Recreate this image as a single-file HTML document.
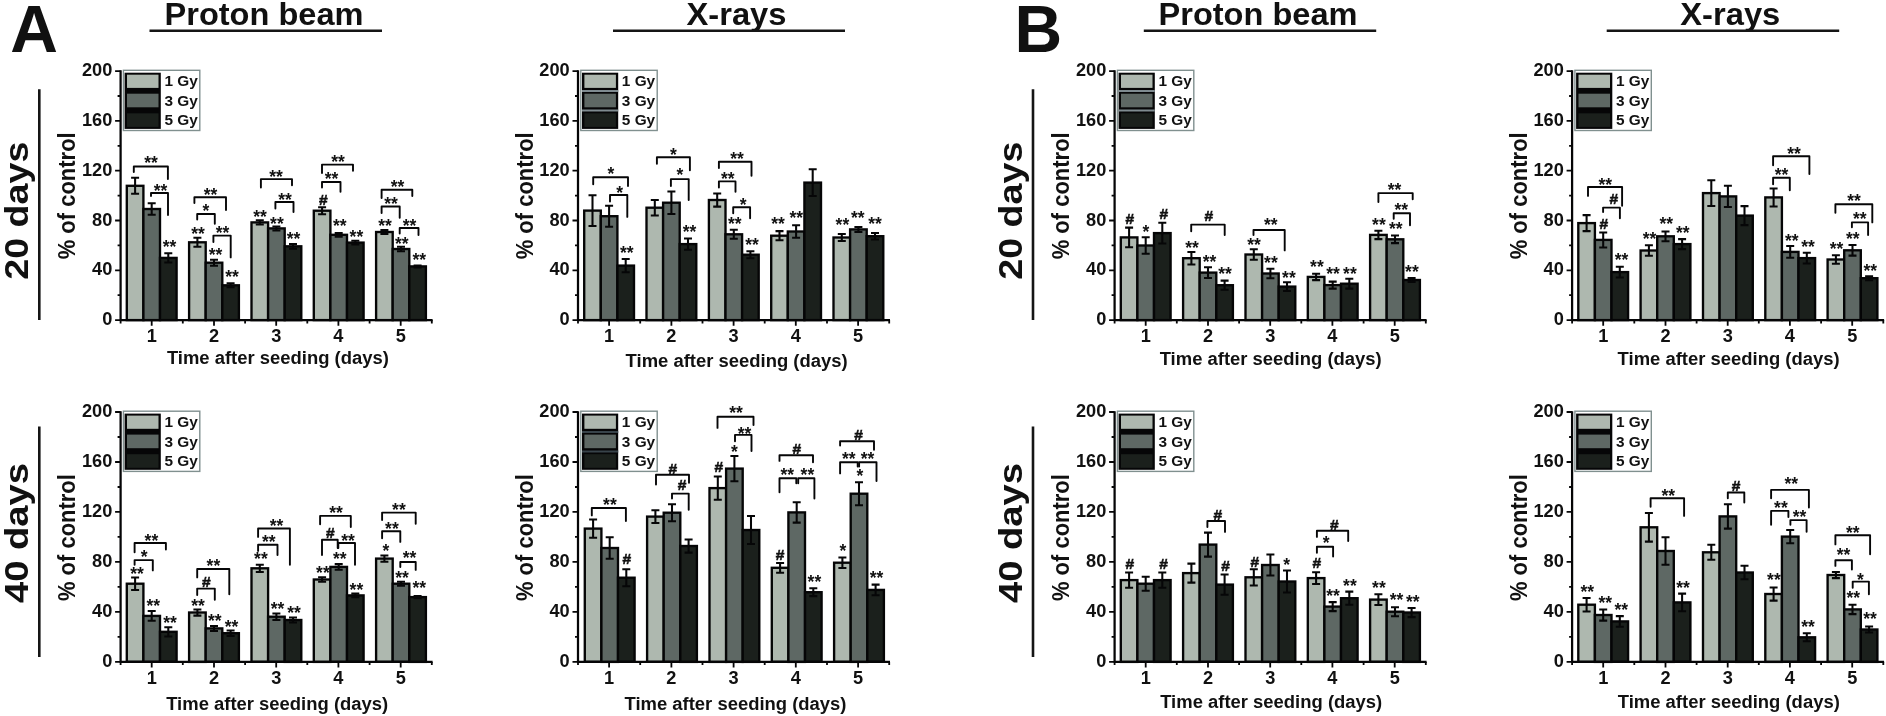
<!DOCTYPE html>
<html lang="en"><head><meta charset="utf-8"><title>Figure</title>
<style>html,body{margin:0;padding:0;background:#fff}body{width:1886px;height:716px;overflow:hidden}svg{display:block;filter:blur(0.45px)}</style>
</head><body>
<svg width="1886" height="716" viewBox="0 0 1886 716" font-family='"Liberation Sans", sans-serif' font-weight="700" fill="#111">
<rect width="1886" height="716" fill="#fff"/>
<text x="10.2" y="52" font-size="66">A</text>
<text x="1014.5" y="52" font-size="66">B</text>
<text x="264" y="25.3" text-anchor="middle" font-size="30.5" textLength="199" lengthAdjust="spacingAndGlyphs">Proton beam</text>
<path d="M149.5 30.8H382" stroke="#151515" stroke-width="2.6"/>
<text x="736.5" y="25.3" text-anchor="middle" font-size="30.5" textLength="100" lengthAdjust="spacingAndGlyphs">X-rays</text>
<path d="M613 30.8H845" stroke="#151515" stroke-width="2.6"/>
<text x="1258" y="25.3" text-anchor="middle" font-size="30.5" textLength="199" lengthAdjust="spacingAndGlyphs">Proton beam</text>
<path d="M1143.8 30.8H1376.2" stroke="#151515" stroke-width="2.6"/>
<text x="1730.3" y="25.3" text-anchor="middle" font-size="30.5" textLength="100" lengthAdjust="spacingAndGlyphs">X-rays</text>
<path d="M1606.7 30.8H1839.2" stroke="#151515" stroke-width="2.6"/>
<text transform="translate(28.3 210.7) rotate(-90)" text-anchor="middle" font-size="33" textLength="138" lengthAdjust="spacingAndGlyphs">20 days</text>
<text transform="translate(28.3 533) rotate(-90)" text-anchor="middle" font-size="33" textLength="140" lengthAdjust="spacingAndGlyphs">40 days</text>
<path d="M39.3 89.3V320M39.3 426.5V657" stroke="#151515" stroke-width="2.6"/>
<text transform="translate(1022.3 210.7) rotate(-90)" text-anchor="middle" font-size="33" textLength="138" lengthAdjust="spacingAndGlyphs">20 days</text>
<text transform="translate(1022.3 533) rotate(-90)" text-anchor="middle" font-size="33" textLength="140" lengthAdjust="spacingAndGlyphs">40 days</text>
<path d="M1033 89.3V320M1033 426.5V657" stroke="#151515" stroke-width="2.6"/>
<rect x="126.8" y="185.8" width="16.6" height="134.3" fill="#aeb8af" stroke="#050506" stroke-width="2.35"/>
<rect x="143.4" y="209.0" width="16.6" height="111.1" fill="#5e6864" stroke="#050506" stroke-width="2.35"/>
<rect x="160.0" y="257.9" width="16.6" height="62.2" fill="#1b201c" stroke="#050506" stroke-width="2.35"/>
<path d="M135.1 177.8V193.8M131.1 177.8H139.1M131.1 193.8H139.1" stroke="#060607" stroke-width="2.05" fill="none"/>
<path d="M151.7 203.2V214.8M147.7 203.2H155.7M147.7 214.8H155.7" stroke="#060607" stroke-width="2.05" fill="none"/>
<path d="M168.3 253.3V262.5M164.3 253.3H172.3M164.3 262.5H172.3" stroke="#060607" stroke-width="2.05" fill="none"/>
<rect x="189.1" y="242.3" width="16.6" height="77.8" fill="#aeb8af" stroke="#050506" stroke-width="2.35"/>
<rect x="205.7" y="262.7" width="16.6" height="57.4" fill="#5e6864" stroke="#050506" stroke-width="2.35"/>
<rect x="222.3" y="285.3" width="16.6" height="34.8" fill="#1b201c" stroke="#050506" stroke-width="2.35"/>
<path d="M197.4 237.8V246.8M193.4 237.8H201.4M193.4 246.8H201.4" stroke="#060607" stroke-width="2.05" fill="none"/>
<path d="M214.0 259.7V265.7M210.0 259.7H218.0M210.0 265.7H218.0" stroke="#060607" stroke-width="2.05" fill="none"/>
<path d="M230.6 283.3V287.3M226.6 283.3H234.6M226.6 287.3H234.6" stroke="#060607" stroke-width="2.05" fill="none"/>
<rect x="251.5" y="222.4" width="16.6" height="97.7" fill="#aeb8af" stroke="#050506" stroke-width="2.35"/>
<rect x="268.1" y="228.4" width="16.6" height="91.7" fill="#5e6864" stroke="#050506" stroke-width="2.35"/>
<rect x="284.7" y="246.3" width="16.6" height="73.8" fill="#1b201c" stroke="#050506" stroke-width="2.35"/>
<path d="M259.8 220.3V224.5M255.8 220.3H263.8M255.8 224.5H263.8" stroke="#060607" stroke-width="2.05" fill="none"/>
<path d="M276.4 226.4V230.4M272.4 226.4H280.4M272.4 230.4H280.4" stroke="#060607" stroke-width="2.05" fill="none"/>
<path d="M293.0 243.9V248.7M289.0 243.9H297.0M289.0 248.7H297.0" stroke="#060607" stroke-width="2.05" fill="none"/>
<rect x="313.8" y="210.7" width="16.6" height="109.4" fill="#aeb8af" stroke="#050506" stroke-width="2.35"/>
<rect x="330.4" y="234.8" width="16.6" height="85.3" fill="#5e6864" stroke="#050506" stroke-width="2.35"/>
<rect x="347.0" y="242.6" width="16.6" height="77.5" fill="#1b201c" stroke="#050506" stroke-width="2.35"/>
<path d="M322.1 207.2V214.2M318.1 207.2H326.1M318.1 214.2H326.1" stroke="#060607" stroke-width="2.05" fill="none"/>
<path d="M338.7 233.0V236.6M334.7 233.0H342.7M334.7 236.6H342.7" stroke="#060607" stroke-width="2.05" fill="none"/>
<path d="M355.3 240.8V244.4M351.3 240.8H359.3M351.3 244.4H359.3" stroke="#060607" stroke-width="2.05" fill="none"/>
<rect x="376.1" y="232.0" width="16.6" height="88.1" fill="#aeb8af" stroke="#050506" stroke-width="2.35"/>
<rect x="392.7" y="249.0" width="16.6" height="71.1" fill="#5e6864" stroke="#050506" stroke-width="2.35"/>
<rect x="409.3" y="266.4" width="16.6" height="53.7" fill="#1b201c" stroke="#050506" stroke-width="2.35"/>
<path d="M384.4 230.0V234.0M380.4 230.0H388.4M380.4 234.0H388.4" stroke="#060607" stroke-width="2.05" fill="none"/>
<path d="M401.0 246.8V251.2M397.0 246.8H405.0M397.0 251.2H405.0" stroke="#060607" stroke-width="2.05" fill="none"/>
<path d="M417.6 265.4V267.4M413.6 265.4H421.6M413.6 267.4H421.6" stroke="#060607" stroke-width="2.05" fill="none"/>
<path d="M120.6 70.3V320.9M119.8 320.1H432.6" stroke="#050506" stroke-width="2.25" fill="none"/>
<path d="M115.1 320.1H120.6M117.6 295.2H120.6M115.1 270.3H120.6M117.6 245.4H120.6M115.1 220.5H120.6M117.6 195.6H120.6M115.1 170.7H120.6M117.6 145.8H120.6M115.1 120.9H120.6M117.6 96.0H120.6M115.1 71.1H120.6M120.6 320.1V323.4M151.7 320.1V325.7M182.8 320.1V323.4M214.0 320.1V325.7M245.1 320.1V323.4M276.2 320.1V325.7M307.3 320.1V323.4M338.4 320.1V325.7M369.6 320.1V323.4M400.7 320.1V325.7M431.8 320.1V323.4" stroke="#060607" stroke-width="1.8" fill="none"/>
<text x="112.3" y="325.1" text-anchor="end" font-size="18.2">0</text>
<text x="112.3" y="275.3" text-anchor="end" font-size="18.2">40</text>
<text x="112.3" y="225.5" text-anchor="end" font-size="18.2">80</text>
<text x="112.3" y="175.7" text-anchor="end" font-size="18.2">120</text>
<text x="112.3" y="125.9" text-anchor="end" font-size="18.2">160</text>
<text x="112.3" y="76.1" text-anchor="end" font-size="18.2">200</text>
<text x="151.7" y="342.4" text-anchor="middle" font-size="18.2">1</text>
<text x="214.0" y="342.4" text-anchor="middle" font-size="18.2">2</text>
<text x="276.2" y="342.4" text-anchor="middle" font-size="18.2">3</text>
<text x="338.4" y="342.4" text-anchor="middle" font-size="18.2">4</text>
<text x="400.7" y="342.4" text-anchor="middle" font-size="18.2">5</text>
<text x="277.9" y="364.2" text-anchor="middle" font-size="18" textLength="222" lengthAdjust="spacingAndGlyphs">Time after seeding (days)</text>
<text transform="translate(75.1 195.8) rotate(-90)" text-anchor="middle" font-size="23.5" textLength="127" lengthAdjust="spacingAndGlyphs">% of control</text>
<rect x="123.4" y="70.3" width="76.4" height="60.2" fill="#fff" stroke="#80908f" stroke-width="1.4"/>
<rect x="124.6" y="72.7" width="36.2" height="56.2" fill="#060607"/>
<rect x="127.0" y="74.7" width="31.5" height="13.2" fill="#aeb8af"/>
<text x="164.4" y="86.3" font-size="15.4">1 Gy</text>
<rect x="127.0" y="93.7" width="31.5" height="13.6" fill="#5e6864"/>
<text x="164.4" y="105.8" font-size="15.4">3 Gy</text>
<rect x="127.0" y="113.3" width="31.5" height="13.6" fill="#1b201c"/>
<text x="164.4" y="125.2" font-size="15.4">5 Gy</text>
<text x="169.5" y="252.9" text-anchor="middle" font-size="17.5" letter-spacing="0">**</text>
<text x="198.0" y="239.7" text-anchor="middle" font-size="17.5" letter-spacing="0">**</text>
<text x="215.6" y="260.7" text-anchor="middle" font-size="17.5" letter-spacing="0">**</text>
<text x="232.0" y="282.5" text-anchor="middle" font-size="17.5" letter-spacing="0">**</text>
<text x="260.0" y="222.9" text-anchor="middle" font-size="17.5" letter-spacing="0">**</text>
<text x="276.9" y="229.9" text-anchor="middle" font-size="17.5" letter-spacing="0">**</text>
<text x="293.5" y="245.3" text-anchor="middle" font-size="17.5" letter-spacing="0">**</text>
<text x="323.4" y="205.2" text-anchor="middle" font-size="15.5" stroke="#111" stroke-width="0.55">#</text>
<text x="339.7" y="232.2" text-anchor="middle" font-size="17.5" letter-spacing="0">**</text>
<text x="356.4" y="242.5" text-anchor="middle" font-size="17.5" letter-spacing="0">**</text>
<text x="385.0" y="231.9" text-anchor="middle" font-size="17.5" letter-spacing="0">**</text>
<text x="401.7" y="249.5" text-anchor="middle" font-size="17.5" letter-spacing="0">**</text>
<text x="419.3" y="266.3" text-anchor="middle" font-size="17.5" letter-spacing="0">**</text>
<path d="M133.8 172.0V166.5H167.9V179.0" stroke="#060607" stroke-width="1.9" fill="none" stroke-linejoin="round" stroke-linecap="round"/>
<text x="151.0" y="168.9" text-anchor="middle" font-size="17.5" letter-spacing="0">**</text>
<path d="M151.0 196.0V193.0H168.0V215.0" stroke="#060607" stroke-width="1.9" fill="none" stroke-linejoin="round" stroke-linecap="round"/>
<text x="160.5" y="196.9" text-anchor="middle" font-size="17.5" letter-spacing="0">**</text>
<path d="M194.4 203.0V197.3H226.0V210.0" stroke="#060607" stroke-width="1.9" fill="none" stroke-linejoin="round" stroke-linecap="round"/>
<text x="210.5" y="200.6" text-anchor="middle" font-size="17.5" letter-spacing="0">**</text>
<path d="M197.2 219.6V214.0H214.8V223.8" stroke="#060607" stroke-width="1.9" fill="none" stroke-linejoin="round" stroke-linecap="round"/>
<text x="206.0" y="217.4" text-anchor="middle" font-size="17.5" letter-spacing="0">*</text>
<path d="M213.4 242.0V235.6H230.7V257.4" stroke="#060607" stroke-width="1.9" fill="none" stroke-linejoin="round" stroke-linecap="round"/>
<text x="222.5" y="238.9" text-anchor="middle" font-size="17.5" letter-spacing="0">**</text>
<path d="M260.9 187.5V179.1H292.0V185.3" stroke="#060607" stroke-width="1.9" fill="none" stroke-linejoin="round" stroke-linecap="round"/>
<text x="276.0" y="182.9" text-anchor="middle" font-size="17.5" letter-spacing="0">**</text>
<path d="M275.4 208.5V202.0H293.5V212.0" stroke="#060607" stroke-width="1.9" fill="none" stroke-linejoin="round" stroke-linecap="round"/>
<text x="285.0" y="205.6" text-anchor="middle" font-size="17.5" letter-spacing="0">**</text>
<path d="M322.0 173.0V164.6H353.0V170.7" stroke="#060607" stroke-width="1.9" fill="none" stroke-linejoin="round" stroke-linecap="round"/>
<text x="338.0" y="167.9" text-anchor="middle" font-size="17.5" letter-spacing="0">**</text>
<path d="M322.0 187.5V182.0H340.5V191.7" stroke="#060607" stroke-width="1.9" fill="none" stroke-linejoin="round" stroke-linecap="round"/>
<text x="331.5" y="185.2" text-anchor="middle" font-size="17.5" letter-spacing="0">**</text>
<path d="M381.6 198.0V189.7H412.3V196.0" stroke="#060607" stroke-width="1.9" fill="none" stroke-linejoin="round" stroke-linecap="round"/>
<text x="397.5" y="192.9" text-anchor="middle" font-size="17.5" letter-spacing="0">**</text>
<path d="M381.6 213.0V206.5H399.7V217.7" stroke="#060607" stroke-width="1.9" fill="none" stroke-linejoin="round" stroke-linecap="round"/>
<text x="391.0" y="210.4" text-anchor="middle" font-size="17.5" letter-spacing="0">**</text>
<path d="M399.7 233.6V228.0H418.5V235.0" stroke="#060607" stroke-width="1.9" fill="none" stroke-linejoin="round" stroke-linecap="round"/>
<text x="409.5" y="231.9" text-anchor="middle" font-size="17.5" letter-spacing="0">**</text>
<rect x="584.2" y="210.6" width="16.6" height="109.5" fill="#aeb8af" stroke="#050506" stroke-width="2.35"/>
<rect x="600.8" y="216.2" width="16.6" height="103.9" fill="#5e6864" stroke="#050506" stroke-width="2.35"/>
<rect x="617.4" y="265.6" width="16.6" height="54.5" fill="#1b201c" stroke="#050506" stroke-width="2.35"/>
<path d="M592.5 195.2V226.0M588.5 195.2H596.5M588.5 226.0H596.5" stroke="#060607" stroke-width="2.05" fill="none"/>
<path d="M609.1 205.7V226.7M605.1 205.7H613.1M605.1 226.7H613.1" stroke="#060607" stroke-width="2.05" fill="none"/>
<path d="M625.7 258.9V272.3M621.7 258.9H629.7M621.7 272.3H629.7" stroke="#060607" stroke-width="2.05" fill="none"/>
<rect x="646.5" y="207.7" width="16.6" height="112.4" fill="#aeb8af" stroke="#050506" stroke-width="2.35"/>
<rect x="663.1" y="202.7" width="16.6" height="117.4" fill="#5e6864" stroke="#050506" stroke-width="2.35"/>
<rect x="679.7" y="244.1" width="16.6" height="76.0" fill="#1b201c" stroke="#050506" stroke-width="2.35"/>
<path d="M654.8 199.9V215.5M650.8 199.9H658.8M650.8 215.5H658.8" stroke="#060607" stroke-width="2.05" fill="none"/>
<path d="M671.4 191.5V213.9M667.4 191.5H675.4M667.4 213.9H675.4" stroke="#060607" stroke-width="2.05" fill="none"/>
<path d="M688.0 238.5V249.7M684.0 238.5H692.0M684.0 249.7H692.0" stroke="#060607" stroke-width="2.05" fill="none"/>
<rect x="708.9" y="200.0" width="16.6" height="120.1" fill="#aeb8af" stroke="#050506" stroke-width="2.35"/>
<rect x="725.5" y="234.3" width="16.6" height="85.8" fill="#5e6864" stroke="#050506" stroke-width="2.35"/>
<rect x="742.1" y="254.7" width="16.6" height="65.4" fill="#1b201c" stroke="#050506" stroke-width="2.35"/>
<path d="M717.2 193.4V206.6M713.2 193.4H721.2M713.2 206.6H721.2" stroke="#060607" stroke-width="2.05" fill="none"/>
<path d="M733.8 229.8V238.8M729.8 229.8H737.8M729.8 238.8H737.8" stroke="#060607" stroke-width="2.05" fill="none"/>
<path d="M750.4 251.2V258.2M746.4 251.2H754.4M746.4 258.2H754.4" stroke="#060607" stroke-width="2.05" fill="none"/>
<rect x="771.2" y="235.7" width="16.6" height="84.4" fill="#aeb8af" stroke="#050506" stroke-width="2.35"/>
<rect x="787.8" y="231.5" width="16.6" height="88.6" fill="#5e6864" stroke="#050506" stroke-width="2.35"/>
<rect x="804.4" y="182.6" width="16.6" height="137.5" fill="#1b201c" stroke="#050506" stroke-width="2.35"/>
<path d="M779.5 231.1V240.3M775.5 231.1H783.5M775.5 240.3H783.5" stroke="#060607" stroke-width="2.05" fill="none"/>
<path d="M796.1 225.2V237.8M792.1 225.2H800.1M792.1 237.8H800.1" stroke="#060607" stroke-width="2.05" fill="none"/>
<path d="M812.7 169.2V196.0M808.7 169.2H816.7M808.7 196.0H816.7" stroke="#060607" stroke-width="2.05" fill="none"/>
<rect x="833.5" y="237.5" width="16.6" height="82.6" fill="#aeb8af" stroke="#050506" stroke-width="2.35"/>
<rect x="850.1" y="229.4" width="16.6" height="90.7" fill="#5e6864" stroke="#050506" stroke-width="2.35"/>
<rect x="866.7" y="236.2" width="16.6" height="83.9" fill="#1b201c" stroke="#050506" stroke-width="2.35"/>
<path d="M841.8 234.0V241.0M837.8 234.0H845.8M837.8 241.0H845.8" stroke="#060607" stroke-width="2.05" fill="none"/>
<path d="M858.4 226.9V231.9M854.4 226.9H862.4M854.4 231.9H862.4" stroke="#060607" stroke-width="2.05" fill="none"/>
<path d="M875.0 233.0V239.4M871.0 233.0H879.0M871.0 239.4H879.0" stroke="#060607" stroke-width="2.05" fill="none"/>
<path d="M578.0 70.3V320.9M577.2 320.1H890.0" stroke="#050506" stroke-width="2.25" fill="none"/>
<path d="M572.5 320.1H578.0M575.0 295.2H578.0M572.5 270.3H578.0M575.0 245.4H578.0M572.5 220.5H578.0M575.0 195.6H578.0M572.5 170.7H578.0M575.0 145.8H578.0M572.5 120.9H578.0M575.0 96.0H578.0M572.5 71.1H578.0M578.0 320.1V323.4M609.1 320.1V325.7M640.2 320.1V323.4M671.4 320.1V325.7M702.5 320.1V323.4M733.6 320.1V325.7M764.7 320.1V323.4M795.8 320.1V325.7M827.0 320.1V323.4M858.1 320.1V325.7M889.2 320.1V323.4" stroke="#060607" stroke-width="1.8" fill="none"/>
<text x="569.7" y="325.1" text-anchor="end" font-size="18.2">0</text>
<text x="569.7" y="275.3" text-anchor="end" font-size="18.2">40</text>
<text x="569.7" y="225.5" text-anchor="end" font-size="18.2">80</text>
<text x="569.7" y="175.7" text-anchor="end" font-size="18.2">120</text>
<text x="569.7" y="125.9" text-anchor="end" font-size="18.2">160</text>
<text x="569.7" y="76.1" text-anchor="end" font-size="18.2">200</text>
<text x="609.1" y="342.4" text-anchor="middle" font-size="18.2">1</text>
<text x="671.4" y="342.4" text-anchor="middle" font-size="18.2">2</text>
<text x="733.6" y="342.4" text-anchor="middle" font-size="18.2">3</text>
<text x="795.8" y="342.4" text-anchor="middle" font-size="18.2">4</text>
<text x="858.1" y="342.4" text-anchor="middle" font-size="18.2">5</text>
<text x="736.6" y="366.8" text-anchor="middle" font-size="18" textLength="222" lengthAdjust="spacingAndGlyphs">Time after seeding (days)</text>
<text transform="translate(532.5 195.8) rotate(-90)" text-anchor="middle" font-size="23.5" textLength="127" lengthAdjust="spacingAndGlyphs">% of control</text>
<rect x="580.8" y="70.3" width="76.4" height="60.2" fill="#fff" stroke="#80908f" stroke-width="1.4"/>
<rect x="582.0" y="72.7" width="36.2" height="56.2" fill="#060607"/>
<path d="M582.0 91.1H618.2M582.0 110.5H618.2" stroke="#7f8b90" stroke-width="2"/>
<rect x="584.4" y="74.7" width="31.5" height="13.2" fill="#aeb8af"/>
<text x="621.8" y="86.3" font-size="15.4">1 Gy</text>
<rect x="584.4" y="93.7" width="31.5" height="13.6" fill="#5e6864"/>
<text x="621.8" y="105.8" font-size="15.4">3 Gy</text>
<rect x="584.4" y="113.3" width="31.5" height="13.6" fill="#1b201c"/>
<text x="621.8" y="125.2" font-size="15.4">5 Gy</text>
<text x="626.7" y="258.5" text-anchor="middle" font-size="17.5" letter-spacing="0">**</text>
<text x="689.6" y="238.3" text-anchor="middle" font-size="17.5" letter-spacing="0">**</text>
<text x="734.8" y="229.9" text-anchor="middle" font-size="17.5" letter-spacing="0">**</text>
<text x="752.1" y="250.9" text-anchor="middle" font-size="17.5" letter-spacing="0">**</text>
<text x="778.1" y="229.9" text-anchor="middle" font-size="17.5" letter-spacing="0">**</text>
<text x="796.3" y="223.8" text-anchor="middle" font-size="17.5" letter-spacing="0">**</text>
<text x="842.4" y="231.3" text-anchor="middle" font-size="17.5" letter-spacing="0">**</text>
<text x="857.7" y="223.8" text-anchor="middle" font-size="17.5" letter-spacing="0">**</text>
<text x="875.1" y="229.9" text-anchor="middle" font-size="17.5" letter-spacing="0">**</text>
<path d="M593.2 184.2V177.2H628.0V186.0" stroke="#060607" stroke-width="1.9" fill="none" stroke-linejoin="round" stroke-linecap="round"/>
<text x="610.8" y="180.2" text-anchor="middle" font-size="17.5" letter-spacing="0">*</text>
<path d="M610.0 201.5V195.0H627.3V216.9" stroke="#060607" stroke-width="1.9" fill="none" stroke-linejoin="round" stroke-linecap="round"/>
<text x="619.7" y="199.2" text-anchor="middle" font-size="17.5" letter-spacing="0">*</text>
<path d="M656.9 163.8V157.3H689.9V170.2" stroke="#060607" stroke-width="1.9" fill="none" stroke-linejoin="round" stroke-linecap="round"/>
<text x="673.4" y="160.6" text-anchor="middle" font-size="17.5" letter-spacing="0">*</text>
<path d="M670.9 186.1V179.1H688.7V200.0" stroke="#060607" stroke-width="1.9" fill="none" stroke-linejoin="round" stroke-linecap="round"/>
<text x="679.8" y="180.5" text-anchor="middle" font-size="17.5" letter-spacing="0">*</text>
<path d="M718.9 168.0V161.8H751.5V175.8" stroke="#060607" stroke-width="1.9" fill="none" stroke-linejoin="round" stroke-linecap="round"/>
<text x="737.0" y="165.1" text-anchor="middle" font-size="17.5" letter-spacing="0">**</text>
<path d="M718.9 187.5V181.4H735.5V191.7" stroke="#060607" stroke-width="1.9" fill="none" stroke-linejoin="round" stroke-linecap="round"/>
<text x="727.8" y="184.7" text-anchor="middle" font-size="17.5" letter-spacing="0">**</text>
<path d="M733.2 213.2V207.3H750.1V218.3" stroke="#060607" stroke-width="1.9" fill="none" stroke-linejoin="round" stroke-linecap="round"/>
<text x="743.2" y="210.9" text-anchor="middle" font-size="17.5" letter-spacing="0">*</text>
<rect x="1120.8" y="237.4" width="16.6" height="82.7" fill="#aeb8af" stroke="#050506" stroke-width="2.35"/>
<rect x="1137.4" y="245.5" width="16.6" height="74.6" fill="#5e6864" stroke="#050506" stroke-width="2.35"/>
<rect x="1154.0" y="233.1" width="16.6" height="87.0" fill="#1b201c" stroke="#050506" stroke-width="2.35"/>
<path d="M1129.1 227.6V247.2M1125.1 227.6H1133.1M1125.1 247.2H1133.1" stroke="#060607" stroke-width="2.05" fill="none"/>
<path d="M1145.7 237.3V253.7M1141.7 237.3H1149.7M1141.7 253.7H1149.7" stroke="#060607" stroke-width="2.05" fill="none"/>
<path d="M1162.3 222.7V243.5M1158.3 222.7H1166.3M1158.3 243.5H1166.3" stroke="#060607" stroke-width="2.05" fill="none"/>
<rect x="1183.1" y="258.2" width="16.6" height="61.9" fill="#aeb8af" stroke="#050506" stroke-width="2.35"/>
<rect x="1199.7" y="272.6" width="16.6" height="47.5" fill="#5e6864" stroke="#050506" stroke-width="2.35"/>
<rect x="1216.3" y="285.2" width="16.6" height="34.9" fill="#1b201c" stroke="#050506" stroke-width="2.35"/>
<path d="M1191.4 251.9V264.5M1187.4 251.9H1195.4M1187.4 264.5H1195.4" stroke="#060607" stroke-width="2.05" fill="none"/>
<path d="M1208.0 267.3V277.9M1204.0 267.3H1212.0M1204.0 277.9H1212.0" stroke="#060607" stroke-width="2.05" fill="none"/>
<path d="M1224.6 280.6V289.8M1220.6 280.6H1228.6M1220.6 289.8H1228.6" stroke="#060607" stroke-width="2.05" fill="none"/>
<rect x="1245.5" y="254.5" width="16.6" height="65.6" fill="#aeb8af" stroke="#050506" stroke-width="2.35"/>
<rect x="1262.1" y="273.5" width="16.6" height="46.6" fill="#5e6864" stroke="#050506" stroke-width="2.35"/>
<rect x="1278.7" y="286.6" width="16.6" height="33.5" fill="#1b201c" stroke="#050506" stroke-width="2.35"/>
<path d="M1253.8 249.3V259.7M1249.8 249.3H1257.8M1249.8 259.7H1257.8" stroke="#060607" stroke-width="2.05" fill="none"/>
<path d="M1270.4 268.8V278.2M1266.4 268.8H1274.4M1266.4 278.2H1274.4" stroke="#060607" stroke-width="2.05" fill="none"/>
<path d="M1287.0 282.3V290.9M1283.0 282.3H1291.0M1283.0 290.9H1291.0" stroke="#060607" stroke-width="2.05" fill="none"/>
<rect x="1307.8" y="276.9" width="16.6" height="43.2" fill="#aeb8af" stroke="#050506" stroke-width="2.35"/>
<rect x="1324.4" y="285.1" width="16.6" height="35.0" fill="#5e6864" stroke="#050506" stroke-width="2.35"/>
<rect x="1341.0" y="283.7" width="16.6" height="36.4" fill="#1b201c" stroke="#050506" stroke-width="2.35"/>
<path d="M1316.1 273.7V280.1M1312.1 273.7H1320.1M1312.1 280.1H1320.1" stroke="#060607" stroke-width="2.05" fill="none"/>
<path d="M1332.7 281.6V288.6M1328.7 281.6H1336.7M1328.7 288.6H1336.7" stroke="#060607" stroke-width="2.05" fill="none"/>
<path d="M1349.3 278.8V288.6M1345.3 278.8H1353.3M1345.3 288.6H1353.3" stroke="#060607" stroke-width="2.05" fill="none"/>
<rect x="1370.1" y="234.9" width="16.6" height="85.2" fill="#aeb8af" stroke="#050506" stroke-width="2.35"/>
<rect x="1386.7" y="239.3" width="16.6" height="80.8" fill="#5e6864" stroke="#050506" stroke-width="2.35"/>
<rect x="1403.3" y="280.0" width="16.6" height="40.1" fill="#1b201c" stroke="#050506" stroke-width="2.35"/>
<path d="M1378.4 230.7V239.1M1374.4 230.7H1382.4M1374.4 239.1H1382.4" stroke="#060607" stroke-width="2.05" fill="none"/>
<path d="M1395.0 235.5V243.1M1391.0 235.5H1399.0M1391.0 243.1H1399.0" stroke="#060607" stroke-width="2.05" fill="none"/>
<path d="M1411.6 278.0V282.0M1407.6 278.0H1415.6M1407.6 282.0H1415.6" stroke="#060607" stroke-width="2.05" fill="none"/>
<path d="M1114.6 70.3V320.9M1113.8 320.1H1426.6" stroke="#050506" stroke-width="2.25" fill="none"/>
<path d="M1109.1 320.1H1114.6M1111.6 295.2H1114.6M1109.1 270.3H1114.6M1111.6 245.4H1114.6M1109.1 220.5H1114.6M1111.6 195.6H1114.6M1109.1 170.7H1114.6M1111.6 145.8H1114.6M1109.1 120.9H1114.6M1111.6 96.0H1114.6M1109.1 71.1H1114.6M1114.6 320.1V323.4M1145.7 320.1V325.7M1176.8 320.1V323.4M1208.0 320.1V325.7M1239.1 320.1V323.4M1270.2 320.1V325.7M1301.3 320.1V323.4M1332.4 320.1V325.7M1363.6 320.1V323.4M1394.7 320.1V325.7M1425.8 320.1V323.4" stroke="#060607" stroke-width="1.8" fill="none"/>
<text x="1106.3" y="325.1" text-anchor="end" font-size="18.2">0</text>
<text x="1106.3" y="275.3" text-anchor="end" font-size="18.2">40</text>
<text x="1106.3" y="225.5" text-anchor="end" font-size="18.2">80</text>
<text x="1106.3" y="175.7" text-anchor="end" font-size="18.2">120</text>
<text x="1106.3" y="125.9" text-anchor="end" font-size="18.2">160</text>
<text x="1106.3" y="76.1" text-anchor="end" font-size="18.2">200</text>
<text x="1145.7" y="342.4" text-anchor="middle" font-size="18.2">1</text>
<text x="1208.0" y="342.4" text-anchor="middle" font-size="18.2">2</text>
<text x="1270.2" y="342.4" text-anchor="middle" font-size="18.2">3</text>
<text x="1332.4" y="342.4" text-anchor="middle" font-size="18.2">4</text>
<text x="1394.7" y="342.4" text-anchor="middle" font-size="18.2">5</text>
<text x="1270.7" y="365.3" text-anchor="middle" font-size="18" textLength="222" lengthAdjust="spacingAndGlyphs">Time after seeding (days)</text>
<text transform="translate(1069.1 195.8) rotate(-90)" text-anchor="middle" font-size="23.5" textLength="127" lengthAdjust="spacingAndGlyphs">% of control</text>
<rect x="1117.4" y="70.3" width="76.4" height="60.2" fill="#fff" stroke="#80908f" stroke-width="1.4"/>
<rect x="1118.6" y="72.7" width="36.2" height="56.2" fill="#060607"/>
<path d="M1118.6 91.1H1154.8M1118.6 110.5H1154.8" stroke="#7f8b90" stroke-width="2"/>
<rect x="1121.0" y="74.7" width="31.5" height="13.2" fill="#aeb8af"/>
<text x="1158.4" y="86.3" font-size="15.4">1 Gy</text>
<rect x="1121.0" y="93.7" width="31.5" height="13.6" fill="#5e6864"/>
<text x="1158.4" y="105.8" font-size="15.4">3 Gy</text>
<rect x="1121.0" y="113.3" width="31.5" height="13.6" fill="#1b201c"/>
<text x="1158.4" y="125.2" font-size="15.4">5 Gy</text>
<text x="1129.9" y="224.2" text-anchor="middle" font-size="15.5" stroke="#111" stroke-width="0.55">#</text>
<text x="1145.9" y="237.8" text-anchor="middle" font-size="17.5" letter-spacing="0">*</text>
<text x="1163.7" y="218.6" text-anchor="middle" font-size="15.5" stroke="#111" stroke-width="0.55">#</text>
<text x="1192.0" y="254.3" text-anchor="middle" font-size="17.5" letter-spacing="0">**</text>
<text x="1209.6" y="268.2" text-anchor="middle" font-size="17.5" letter-spacing="0">**</text>
<text x="1225.0" y="280.3" text-anchor="middle" font-size="17.5" letter-spacing="0">**</text>
<text x="1254.0" y="250.9" text-anchor="middle" font-size="17.5" letter-spacing="0">**</text>
<text x="1270.9" y="269.1" text-anchor="middle" font-size="17.5" letter-spacing="0">**</text>
<text x="1288.9" y="283.6" text-anchor="middle" font-size="17.5" letter-spacing="0">**</text>
<text x="1316.9" y="273.3" text-anchor="middle" font-size="17.5" letter-spacing="0">**</text>
<text x="1333.1" y="279.7" text-anchor="middle" font-size="17.5" letter-spacing="0">**</text>
<text x="1349.9" y="280.3" text-anchor="middle" font-size="17.5" letter-spacing="0">**</text>
<text x="1378.9" y="230.5" text-anchor="middle" font-size="17.5" letter-spacing="0">**</text>
<text x="1395.7" y="235.0" text-anchor="middle" font-size="17.5" letter-spacing="0">**</text>
<text x="1411.9" y="278.3" text-anchor="middle" font-size="17.5" letter-spacing="0">**</text>
<path d="M1191.2 231.2V224.6H1224.7V235.0" stroke="#060607" stroke-width="1.9" fill="none" stroke-linejoin="round" stroke-linecap="round"/>
<text x="1208.8" y="221.4" text-anchor="middle" font-size="15.5" stroke="#111" stroke-width="0.55">#</text>
<path d="M1253.5 235.0V230.0H1284.7V250.4" stroke="#060607" stroke-width="1.9" fill="none" stroke-linejoin="round" stroke-linecap="round"/>
<text x="1270.8" y="230.8" text-anchor="middle" font-size="17.5" letter-spacing="0">**</text>
<path d="M1378.4 202.0V193.1H1412.7V199.3" stroke="#060607" stroke-width="1.9" fill="none" stroke-linejoin="round" stroke-linecap="round"/>
<text x="1394.6" y="195.9" text-anchor="middle" font-size="17.5" letter-spacing="0">**</text>
<path d="M1393.7 218.8V213.2H1410.0V225.2" stroke="#060607" stroke-width="1.9" fill="none" stroke-linejoin="round" stroke-linecap="round"/>
<text x="1401.3" y="216.0" text-anchor="middle" font-size="17.5" letter-spacing="0">**</text>
<rect x="1578.3" y="223.1" width="16.6" height="97.0" fill="#aeb8af" stroke="#050506" stroke-width="2.35"/>
<rect x="1594.9" y="239.9" width="16.6" height="80.2" fill="#5e6864" stroke="#050506" stroke-width="2.35"/>
<rect x="1611.5" y="272.1" width="16.6" height="48.0" fill="#1b201c" stroke="#050506" stroke-width="2.35"/>
<path d="M1586.6 215.1V231.1M1582.6 215.1H1590.6M1582.6 231.1H1590.6" stroke="#060607" stroke-width="2.05" fill="none"/>
<path d="M1603.2 232.4V247.4M1599.2 232.4H1607.2M1599.2 247.4H1607.2" stroke="#060607" stroke-width="2.05" fill="none"/>
<path d="M1619.8 266.8V277.4M1615.8 266.8H1623.8M1615.8 277.4H1623.8" stroke="#060607" stroke-width="2.05" fill="none"/>
<rect x="1640.6" y="250.5" width="16.6" height="69.6" fill="#aeb8af" stroke="#050506" stroke-width="2.35"/>
<rect x="1657.2" y="236.3" width="16.6" height="83.8" fill="#5e6864" stroke="#050506" stroke-width="2.35"/>
<rect x="1673.8" y="244.1" width="16.6" height="76.0" fill="#1b201c" stroke="#050506" stroke-width="2.35"/>
<path d="M1648.9 245.3V255.7M1644.9 245.3H1652.9M1644.9 255.7H1652.9" stroke="#060607" stroke-width="2.05" fill="none"/>
<path d="M1665.5 231.4V241.2M1661.5 231.4H1669.5M1661.5 241.2H1669.5" stroke="#060607" stroke-width="2.05" fill="none"/>
<path d="M1682.1 239.1V249.1M1678.1 239.1H1686.1M1678.1 249.1H1686.1" stroke="#060607" stroke-width="2.05" fill="none"/>
<rect x="1703.0" y="193.1" width="16.6" height="127.0" fill="#aeb8af" stroke="#050506" stroke-width="2.35"/>
<rect x="1719.6" y="196.4" width="16.6" height="123.7" fill="#5e6864" stroke="#050506" stroke-width="2.35"/>
<rect x="1736.2" y="215.6" width="16.6" height="104.5" fill="#1b201c" stroke="#050506" stroke-width="2.35"/>
<path d="M1711.3 180.2V206.0M1707.3 180.2H1715.3M1707.3 206.0H1715.3" stroke="#060607" stroke-width="2.05" fill="none"/>
<path d="M1727.9 185.8V207.0M1723.9 185.8H1731.9M1723.9 207.0H1731.9" stroke="#060607" stroke-width="2.05" fill="none"/>
<path d="M1744.5 206.1V225.1M1740.5 206.1H1748.5M1740.5 225.1H1748.5" stroke="#060607" stroke-width="2.05" fill="none"/>
<rect x="1765.3" y="197.4" width="16.6" height="122.7" fill="#aeb8af" stroke="#050506" stroke-width="2.35"/>
<rect x="1781.9" y="251.9" width="16.6" height="68.2" fill="#5e6864" stroke="#050506" stroke-width="2.35"/>
<rect x="1798.5" y="258.1" width="16.6" height="62.0" fill="#1b201c" stroke="#050506" stroke-width="2.35"/>
<path d="M1773.6 188.4V206.4M1769.6 188.4H1777.6M1769.6 206.4H1777.6" stroke="#060607" stroke-width="2.05" fill="none"/>
<path d="M1790.2 246.0V257.8M1786.2 246.0H1794.2M1786.2 257.8H1794.2" stroke="#060607" stroke-width="2.05" fill="none"/>
<path d="M1806.8 252.8V263.4M1802.8 252.8H1810.8M1802.8 263.4H1810.8" stroke="#060607" stroke-width="2.05" fill="none"/>
<rect x="1827.6" y="259.5" width="16.6" height="60.6" fill="#aeb8af" stroke="#050506" stroke-width="2.35"/>
<rect x="1844.2" y="250.3" width="16.6" height="69.8" fill="#5e6864" stroke="#050506" stroke-width="2.35"/>
<rect x="1860.8" y="278.2" width="16.6" height="41.9" fill="#1b201c" stroke="#050506" stroke-width="2.35"/>
<path d="M1835.9 255.3V263.7M1831.9 255.3H1839.9M1831.9 263.7H1839.9" stroke="#060607" stroke-width="2.05" fill="none"/>
<path d="M1852.5 245.0V255.6M1848.5 245.0H1856.5M1848.5 255.6H1856.5" stroke="#060607" stroke-width="2.05" fill="none"/>
<path d="M1869.1 276.2V280.2M1865.1 276.2H1873.1M1865.1 280.2H1873.1" stroke="#060607" stroke-width="2.05" fill="none"/>
<path d="M1572.1 70.3V320.9M1571.3 320.1H1884.1" stroke="#050506" stroke-width="2.25" fill="none"/>
<path d="M1566.6 320.1H1572.1M1569.1 295.2H1572.1M1566.6 270.3H1572.1M1569.1 245.4H1572.1M1566.6 220.5H1572.1M1569.1 195.6H1572.1M1566.6 170.7H1572.1M1569.1 145.8H1572.1M1566.6 120.9H1572.1M1569.1 96.0H1572.1M1566.6 71.1H1572.1M1572.1 320.1V323.4M1603.2 320.1V325.7M1634.3 320.1V323.4M1665.5 320.1V325.7M1696.6 320.1V323.4M1727.7 320.1V325.7M1758.8 320.1V323.4M1789.9 320.1V325.7M1821.1 320.1V323.4M1852.2 320.1V325.7M1883.3 320.1V323.4" stroke="#060607" stroke-width="1.8" fill="none"/>
<text x="1563.8" y="325.1" text-anchor="end" font-size="18.2">0</text>
<text x="1563.8" y="275.3" text-anchor="end" font-size="18.2">40</text>
<text x="1563.8" y="225.5" text-anchor="end" font-size="18.2">80</text>
<text x="1563.8" y="175.7" text-anchor="end" font-size="18.2">120</text>
<text x="1563.8" y="125.9" text-anchor="end" font-size="18.2">160</text>
<text x="1563.8" y="76.1" text-anchor="end" font-size="18.2">200</text>
<text x="1603.2" y="342.4" text-anchor="middle" font-size="18.2">1</text>
<text x="1665.5" y="342.4" text-anchor="middle" font-size="18.2">2</text>
<text x="1727.7" y="342.4" text-anchor="middle" font-size="18.2">3</text>
<text x="1789.9" y="342.4" text-anchor="middle" font-size="18.2">4</text>
<text x="1852.2" y="342.4" text-anchor="middle" font-size="18.2">5</text>
<text x="1728.6" y="365.3" text-anchor="middle" font-size="18" textLength="222" lengthAdjust="spacingAndGlyphs">Time after seeding (days)</text>
<text transform="translate(1526.6 195.8) rotate(-90)" text-anchor="middle" font-size="23.5" textLength="127" lengthAdjust="spacingAndGlyphs">% of control</text>
<rect x="1574.9" y="70.3" width="76.4" height="60.2" fill="#fff" stroke="#80908f" stroke-width="1.4"/>
<rect x="1576.1" y="72.7" width="36.2" height="56.2" fill="#060607"/>
<rect x="1578.5" y="74.7" width="31.5" height="13.2" fill="#aeb8af"/>
<text x="1615.9" y="86.3" font-size="15.4">1 Gy</text>
<rect x="1578.5" y="93.7" width="31.5" height="13.6" fill="#5e6864"/>
<text x="1615.9" y="105.8" font-size="15.4">3 Gy</text>
<rect x="1578.5" y="113.3" width="31.5" height="13.6" fill="#1b201c"/>
<text x="1615.9" y="125.2" font-size="15.4">5 Gy</text>
<text x="1603.9" y="229.2" text-anchor="middle" font-size="15.5" stroke="#111" stroke-width="0.55">#</text>
<text x="1621.5" y="266.3" text-anchor="middle" font-size="17.5" letter-spacing="0">**</text>
<text x="1649.5" y="245.3" text-anchor="middle" font-size="17.5" letter-spacing="0">**</text>
<text x="1666.2" y="229.9" text-anchor="middle" font-size="17.5" letter-spacing="0">**</text>
<text x="1682.7" y="238.9" text-anchor="middle" font-size="17.5" letter-spacing="0">**</text>
<text x="1791.8" y="246.7" text-anchor="middle" font-size="17.5" letter-spacing="0">**</text>
<text x="1808.0" y="252.9" text-anchor="middle" font-size="17.5" letter-spacing="0">**</text>
<text x="1836.5" y="254.5" text-anchor="middle" font-size="17.5" letter-spacing="0">**</text>
<text x="1852.7" y="245.3" text-anchor="middle" font-size="17.5" letter-spacing="0">**</text>
<text x="1870.3" y="276.6" text-anchor="middle" font-size="17.5" letter-spacing="0">**</text>
<path d="M1588.0 195.9V187.0H1622.1V205.7" stroke="#060607" stroke-width="1.9" fill="none" stroke-linejoin="round" stroke-linecap="round"/>
<text x="1605.3" y="190.8" text-anchor="middle" font-size="17.5" letter-spacing="0">**</text>
<path d="M1603.1 212.1V207.6H1619.9V218.3" stroke="#060607" stroke-width="1.9" fill="none" stroke-linejoin="round" stroke-linecap="round"/>
<text x="1613.7" y="204.1" text-anchor="middle" font-size="15.5" stroke="#111" stroke-width="0.55">#</text>
<path d="M1773.1 165.2V156.2H1809.4V174.1" stroke="#060607" stroke-width="1.9" fill="none" stroke-linejoin="round" stroke-linecap="round"/>
<text x="1794.0" y="159.5" text-anchor="middle" font-size="17.5" letter-spacing="0">**</text>
<path d="M1773.1 184.2V177.7H1789.8V190.3" stroke="#060607" stroke-width="1.9" fill="none" stroke-linejoin="round" stroke-linecap="round"/>
<text x="1781.5" y="181.0" text-anchor="middle" font-size="17.5" letter-spacing="0">**</text>
<path d="M1835.4 212.7V204.3H1872.3V222.4" stroke="#060607" stroke-width="1.9" fill="none" stroke-linejoin="round" stroke-linecap="round"/>
<text x="1854.1" y="206.8" text-anchor="middle" font-size="17.5" letter-spacing="0">**</text>
<path d="M1851.9 227.2V222.4H1868.1V235.0" stroke="#060607" stroke-width="1.9" fill="none" stroke-linejoin="round" stroke-linecap="round"/>
<text x="1859.7" y="224.9" text-anchor="middle" font-size="17.5" letter-spacing="0">**</text>
<rect x="126.8" y="583.7" width="16.6" height="78.1" fill="#aeb8af" stroke="#050506" stroke-width="2.35"/>
<rect x="143.4" y="615.9" width="16.6" height="45.9" fill="#5e6864" stroke="#050506" stroke-width="2.35"/>
<rect x="160.0" y="631.8" width="16.6" height="30.0" fill="#1b201c" stroke="#050506" stroke-width="2.35"/>
<path d="M135.1 577.4V590.0M131.1 577.4H139.1M131.1 590.0H139.1" stroke="#060607" stroke-width="2.05" fill="none"/>
<path d="M151.7 611.0V620.8M147.7 611.0H155.7M147.7 620.8H155.7" stroke="#060607" stroke-width="2.05" fill="none"/>
<path d="M168.3 627.2V636.4M164.3 627.2H172.3M164.3 636.4H172.3" stroke="#060607" stroke-width="2.05" fill="none"/>
<rect x="189.1" y="612.5" width="16.6" height="49.4" fill="#aeb8af" stroke="#050506" stroke-width="2.35"/>
<rect x="205.7" y="628.4" width="16.6" height="33.4" fill="#5e6864" stroke="#050506" stroke-width="2.35"/>
<rect x="222.3" y="633.2" width="16.6" height="28.6" fill="#1b201c" stroke="#050506" stroke-width="2.35"/>
<path d="M197.4 609.4V615.6M193.4 609.4H201.4M193.4 615.6H201.4" stroke="#060607" stroke-width="2.05" fill="none"/>
<path d="M214.0 625.9V630.9M210.0 625.9H218.0M210.0 630.9H218.0" stroke="#060607" stroke-width="2.05" fill="none"/>
<path d="M230.6 630.4V636.0M226.6 630.4H234.6M226.6 636.0H234.6" stroke="#060607" stroke-width="2.05" fill="none"/>
<rect x="251.5" y="568.3" width="16.6" height="93.5" fill="#aeb8af" stroke="#050506" stroke-width="2.35"/>
<rect x="268.1" y="616.7" width="16.6" height="45.1" fill="#5e6864" stroke="#050506" stroke-width="2.35"/>
<rect x="284.7" y="620.0" width="16.6" height="41.9" fill="#1b201c" stroke="#050506" stroke-width="2.35"/>
<path d="M259.8 564.7V571.9M255.8 564.7H263.8M255.8 571.9H263.8" stroke="#060607" stroke-width="2.05" fill="none"/>
<path d="M276.4 613.5V619.9M272.4 613.5H280.4M272.4 619.9H280.4" stroke="#060607" stroke-width="2.05" fill="none"/>
<path d="M293.0 617.5V622.5M289.0 617.5H297.0M289.0 622.5H297.0" stroke="#060607" stroke-width="2.05" fill="none"/>
<rect x="313.8" y="579.5" width="16.6" height="82.4" fill="#aeb8af" stroke="#050506" stroke-width="2.35"/>
<rect x="330.4" y="566.9" width="16.6" height="94.9" fill="#5e6864" stroke="#050506" stroke-width="2.35"/>
<rect x="347.0" y="595.4" width="16.6" height="66.4" fill="#1b201c" stroke="#050506" stroke-width="2.35"/>
<path d="M322.1 577.3V581.7M318.1 577.3H326.1M318.1 581.7H326.1" stroke="#060607" stroke-width="2.05" fill="none"/>
<path d="M338.7 564.1V569.7M334.7 564.1H342.7M334.7 569.7H342.7" stroke="#060607" stroke-width="2.05" fill="none"/>
<path d="M355.3 593.6V597.2M351.3 593.6H359.3M351.3 597.2H359.3" stroke="#060607" stroke-width="2.05" fill="none"/>
<rect x="376.1" y="558.6" width="16.6" height="103.2" fill="#aeb8af" stroke="#050506" stroke-width="2.35"/>
<rect x="392.7" y="583.7" width="16.6" height="78.1" fill="#5e6864" stroke="#050506" stroke-width="2.35"/>
<rect x="409.3" y="597.1" width="16.6" height="64.8" fill="#1b201c" stroke="#050506" stroke-width="2.35"/>
<path d="M384.4 555.5V561.7M380.4 555.5H388.4M380.4 561.7H388.4" stroke="#060607" stroke-width="2.05" fill="none"/>
<path d="M401.0 581.7V585.7M397.0 581.7H405.0M397.0 585.7H405.0" stroke="#060607" stroke-width="2.05" fill="none"/>
<path d="M417.6 596.1V598.1M413.6 596.1H421.6M413.6 598.1H421.6" stroke="#060607" stroke-width="2.05" fill="none"/>
<path d="M120.6 411.2V662.6M119.8 661.9H432.6" stroke="#050506" stroke-width="2.25" fill="none"/>
<path d="M115.1 661.9H120.6M117.6 636.9H120.6M115.1 611.9H120.6M117.6 586.9H120.6M115.1 561.9H120.6M117.6 536.9H120.6M115.1 511.9H120.6M117.6 487.0H120.6M115.1 462.0H120.6M117.6 437.0H120.6M115.1 412.0H120.6M120.6 661.9V665.1M151.7 661.9V667.5M182.8 661.9V665.1M214.0 661.9V667.5M245.1 661.9V665.1M276.2 661.9V667.5M307.3 661.9V665.1M338.4 661.9V667.5M369.6 661.9V665.1M400.7 661.9V667.5M431.8 661.9V665.1" stroke="#060607" stroke-width="1.8" fill="none"/>
<text x="112.3" y="666.9" text-anchor="end" font-size="18.2">0</text>
<text x="112.3" y="616.9" text-anchor="end" font-size="18.2">40</text>
<text x="112.3" y="566.9" text-anchor="end" font-size="18.2">80</text>
<text x="112.3" y="516.9" text-anchor="end" font-size="18.2">120</text>
<text x="112.3" y="467.0" text-anchor="end" font-size="18.2">160</text>
<text x="112.3" y="417.0" text-anchor="end" font-size="18.2">200</text>
<text x="151.7" y="684.1" text-anchor="middle" font-size="18.2">1</text>
<text x="214.0" y="684.1" text-anchor="middle" font-size="18.2">2</text>
<text x="276.2" y="684.1" text-anchor="middle" font-size="18.2">3</text>
<text x="338.4" y="684.1" text-anchor="middle" font-size="18.2">4</text>
<text x="400.7" y="684.1" text-anchor="middle" font-size="18.2">5</text>
<text x="277.2" y="709.5" text-anchor="middle" font-size="18" textLength="222" lengthAdjust="spacingAndGlyphs">Time after seeding (days)</text>
<text transform="translate(75.1 537.6) rotate(-90)" text-anchor="middle" font-size="23.5" textLength="127" lengthAdjust="spacingAndGlyphs">% of control</text>
<rect x="123.4" y="411.2" width="76.4" height="60.2" fill="#fff" stroke="#80908f" stroke-width="1.4"/>
<rect x="124.6" y="413.6" width="36.2" height="56.2" fill="#060607"/>
<rect x="127.0" y="415.6" width="31.5" height="13.2" fill="#aeb8af"/>
<text x="164.4" y="427.2" font-size="15.4">1 Gy</text>
<rect x="127.0" y="434.6" width="31.5" height="13.6" fill="#5e6864"/>
<text x="164.4" y="446.6" font-size="15.4">3 Gy</text>
<rect x="127.0" y="454.2" width="31.5" height="13.6" fill="#1b201c"/>
<text x="164.4" y="466.1" font-size="15.4">5 Gy</text>
<text x="137.1" y="579.9" text-anchor="middle" font-size="17.5" letter-spacing="0">**</text>
<text x="153.3" y="612.3" text-anchor="middle" font-size="17.5" letter-spacing="0">**</text>
<text x="170.1" y="629.1" text-anchor="middle" font-size="17.5" letter-spacing="0">**</text>
<text x="198.0" y="611.5" text-anchor="middle" font-size="17.5" letter-spacing="0">**</text>
<text x="214.8" y="627.4" text-anchor="middle" font-size="17.5" letter-spacing="0">**</text>
<text x="231.6" y="633.0" text-anchor="middle" font-size="17.5" letter-spacing="0">**</text>
<text x="260.9" y="565.4" text-anchor="middle" font-size="17.5" letter-spacing="0">**</text>
<text x="277.5" y="614.8" text-anchor="middle" font-size="17.5" letter-spacing="0">**</text>
<text x="294.1" y="618.5" text-anchor="middle" font-size="17.5" letter-spacing="0">**</text>
<text x="322.9" y="578.8" text-anchor="middle" font-size="17.5" letter-spacing="0">**</text>
<text x="339.7" y="565.4" text-anchor="middle" font-size="17.5" letter-spacing="0">**</text>
<text x="356.4" y="595.5" text-anchor="middle" font-size="17.5" letter-spacing="0">**</text>
<text x="385.8" y="557.0" text-anchor="middle" font-size="17.5" letter-spacing="0">*</text>
<text x="402.0" y="583.5" text-anchor="middle" font-size="17.5" letter-spacing="0">**</text>
<text x="419.3" y="593.9" text-anchor="middle" font-size="17.5" letter-spacing="0">**</text>
<path d="M134.6 552.3V543.0H165.9V549.5" stroke="#060607" stroke-width="1.9" fill="none" stroke-linejoin="round" stroke-linecap="round"/>
<text x="151.4" y="546.6" text-anchor="middle" font-size="17.5" letter-spacing="0">**</text>
<path d="M134.6 564.8V560.1H152.8V570.4" stroke="#060607" stroke-width="1.9" fill="none" stroke-linejoin="round" stroke-linecap="round"/>
<text x="144.1" y="563.1" text-anchor="middle" font-size="17.5" letter-spacing="0">*</text>
<path d="M197.2 577.4V569.0H229.3V594.2" stroke="#060607" stroke-width="1.9" fill="none" stroke-linejoin="round" stroke-linecap="round"/>
<text x="213.4" y="571.8" text-anchor="middle" font-size="17.5" letter-spacing="0">**</text>
<path d="M197.2 595.0V588.6H214.8V599.8" stroke="#060607" stroke-width="1.9" fill="none" stroke-linejoin="round" stroke-linecap="round"/>
<text x="206.4" y="587.0" text-anchor="middle" font-size="15.5" stroke="#111" stroke-width="0.55">#</text>
<path d="M258.1 536.9V528.5H289.9V564.8" stroke="#060607" stroke-width="1.9" fill="none" stroke-linejoin="round" stroke-linecap="round"/>
<text x="276.5" y="531.8" text-anchor="middle" font-size="17.5" letter-spacing="0">**</text>
<path d="M258.1 550.9V544.7H277.5V555.1" stroke="#060607" stroke-width="1.9" fill="none" stroke-linejoin="round" stroke-linecap="round"/>
<text x="268.7" y="548.0" text-anchor="middle" font-size="17.5" letter-spacing="0">**</text>
<path d="M320.1 524.3V515.9H350.8V527.1" stroke="#060607" stroke-width="1.9" fill="none" stroke-linejoin="round" stroke-linecap="round"/>
<text x="336.0" y="518.7" text-anchor="middle" font-size="17.5" letter-spacing="0">**</text>
<path d="M322.0 555.1V539.7H337.7V548.1" stroke="#060607" stroke-width="1.9" fill="none" stroke-linejoin="round" stroke-linecap="round"/>
<text x="330.4" y="538.1" text-anchor="middle" font-size="15.5" stroke="#111" stroke-width="0.55">#</text>
<path d="M338.3 548.1V543.0H355.0V564.8" stroke="#060607" stroke-width="1.9" fill="none" stroke-linejoin="round" stroke-linecap="round"/>
<text x="348.0" y="547.2" text-anchor="middle" font-size="17.5" letter-spacing="0">**</text>
<path d="M382.1 520.1V512.6H415.7V523.8" stroke="#060607" stroke-width="1.9" fill="none" stroke-linejoin="round" stroke-linecap="round"/>
<text x="398.9" y="515.6" text-anchor="middle" font-size="17.5" letter-spacing="0">**</text>
<path d="M382.1 538.3V531.3H400.3V541.9" stroke="#060607" stroke-width="1.9" fill="none" stroke-linejoin="round" stroke-linecap="round"/>
<text x="391.9" y="534.6" text-anchor="middle" font-size="17.5" letter-spacing="0">**</text>
<path d="M400.3 567.1V562.0H415.7V569.9" stroke="#060607" stroke-width="1.9" fill="none" stroke-linejoin="round" stroke-linecap="round"/>
<text x="409.5" y="564.0" text-anchor="middle" font-size="17.5" letter-spacing="0">**</text>
<rect x="584.8" y="528.6" width="16.6" height="133.2" fill="#aeb8af" stroke="#050506" stroke-width="2.35"/>
<rect x="601.4" y="548.0" width="16.6" height="113.9" fill="#5e6864" stroke="#050506" stroke-width="2.35"/>
<rect x="618.0" y="577.7" width="16.6" height="84.1" fill="#1b201c" stroke="#050506" stroke-width="2.35"/>
<path d="M593.1 519.5V537.7M589.1 519.5H597.1M589.1 537.7H597.1" stroke="#060607" stroke-width="2.05" fill="none"/>
<path d="M609.7 537.2V558.8M605.7 537.2H613.7M605.7 558.8H613.7" stroke="#060607" stroke-width="2.05" fill="none"/>
<path d="M626.3 569.2V586.2M622.3 569.2H630.3M622.3 586.2H630.3" stroke="#060607" stroke-width="2.05" fill="none"/>
<rect x="647.1" y="516.6" width="16.6" height="145.2" fill="#aeb8af" stroke="#050506" stroke-width="2.35"/>
<rect x="663.7" y="512.7" width="16.6" height="149.1" fill="#5e6864" stroke="#050506" stroke-width="2.35"/>
<rect x="680.3" y="546.0" width="16.6" height="115.9" fill="#1b201c" stroke="#050506" stroke-width="2.35"/>
<path d="M655.4 510.3V522.9M651.4 510.3H659.4M651.4 522.9H659.4" stroke="#060607" stroke-width="2.05" fill="none"/>
<path d="M672.0 504.2V521.2M668.0 504.2H676.0M668.0 521.2H676.0" stroke="#060607" stroke-width="2.05" fill="none"/>
<path d="M688.6 539.4V552.6M684.6 539.4H692.6M684.6 552.6H692.6" stroke="#060607" stroke-width="2.05" fill="none"/>
<rect x="709.5" y="488.1" width="16.6" height="173.8" fill="#aeb8af" stroke="#050506" stroke-width="2.35"/>
<rect x="726.1" y="468.6" width="16.6" height="193.3" fill="#5e6864" stroke="#050506" stroke-width="2.35"/>
<rect x="742.7" y="530.0" width="16.6" height="131.9" fill="#1b201c" stroke="#050506" stroke-width="2.35"/>
<path d="M717.8 476.5V499.7M713.8 476.5H721.8M713.8 499.7H721.8" stroke="#060607" stroke-width="2.05" fill="none"/>
<path d="M734.4 456.0V481.2M730.4 456.0H738.4M730.4 481.2H738.4" stroke="#060607" stroke-width="2.05" fill="none"/>
<path d="M751.0 516.0V544.0M747.0 516.0H755.0M747.0 544.0H755.0" stroke="#060607" stroke-width="2.05" fill="none"/>
<rect x="771.8" y="567.8" width="16.6" height="94.0" fill="#aeb8af" stroke="#050506" stroke-width="2.35"/>
<rect x="788.4" y="512.4" width="16.6" height="149.5" fill="#5e6864" stroke="#050506" stroke-width="2.35"/>
<rect x="805.0" y="592.2" width="16.6" height="69.6" fill="#1b201c" stroke="#050506" stroke-width="2.35"/>
<path d="M780.1 562.9V572.7M776.1 562.9H784.1M776.1 572.7H784.1" stroke="#060607" stroke-width="2.05" fill="none"/>
<path d="M796.7 502.2V522.6M792.7 502.2H800.7M792.7 522.6H800.7" stroke="#060607" stroke-width="2.05" fill="none"/>
<path d="M813.3 588.3V596.1M809.3 588.3H817.3M809.3 596.1H817.3" stroke="#060607" stroke-width="2.05" fill="none"/>
<rect x="834.1" y="562.7" width="16.6" height="99.1" fill="#aeb8af" stroke="#050506" stroke-width="2.35"/>
<rect x="850.7" y="493.7" width="16.6" height="168.2" fill="#5e6864" stroke="#050506" stroke-width="2.35"/>
<rect x="867.3" y="589.9" width="16.6" height="71.9" fill="#1b201c" stroke="#050506" stroke-width="2.35"/>
<path d="M842.4 557.4V568.0M838.4 557.4H846.4M838.4 568.0H846.4" stroke="#060607" stroke-width="2.05" fill="none"/>
<path d="M859.0 482.2V505.2M855.0 482.2H863.0M855.0 505.2H863.0" stroke="#060607" stroke-width="2.05" fill="none"/>
<path d="M875.6 584.6V595.2M871.6 584.6H879.6M871.6 595.2H879.6" stroke="#060607" stroke-width="2.05" fill="none"/>
<path d="M578.0 411.2V662.6M577.2 661.9H890.0" stroke="#050506" stroke-width="2.25" fill="none"/>
<path d="M572.5 661.9H578.0M575.0 636.9H578.0M572.5 611.9H578.0M575.0 586.9H578.0M572.5 561.9H578.0M575.0 536.9H578.0M572.5 511.9H578.0M575.0 487.0H578.0M572.5 462.0H578.0M575.0 437.0H578.0M572.5 412.0H578.0M578.0 661.9V665.1M609.1 661.9V667.5M640.2 661.9V665.1M671.4 661.9V667.5M702.5 661.9V665.1M733.6 661.9V667.5M764.7 661.9V665.1M795.8 661.9V667.5M827.0 661.9V665.1M858.1 661.9V667.5M889.2 661.9V665.1" stroke="#060607" stroke-width="1.8" fill="none"/>
<text x="569.7" y="666.9" text-anchor="end" font-size="18.2">0</text>
<text x="569.7" y="616.9" text-anchor="end" font-size="18.2">40</text>
<text x="569.7" y="566.9" text-anchor="end" font-size="18.2">80</text>
<text x="569.7" y="516.9" text-anchor="end" font-size="18.2">120</text>
<text x="569.7" y="467.0" text-anchor="end" font-size="18.2">160</text>
<text x="569.7" y="417.0" text-anchor="end" font-size="18.2">200</text>
<text x="609.1" y="684.1" text-anchor="middle" font-size="18.2">1</text>
<text x="671.4" y="684.1" text-anchor="middle" font-size="18.2">2</text>
<text x="733.6" y="684.1" text-anchor="middle" font-size="18.2">3</text>
<text x="795.8" y="684.1" text-anchor="middle" font-size="18.2">4</text>
<text x="858.1" y="684.1" text-anchor="middle" font-size="18.2">5</text>
<text x="735.5" y="709.5" text-anchor="middle" font-size="18" textLength="222" lengthAdjust="spacingAndGlyphs">Time after seeding (days)</text>
<text transform="translate(532.5 537.6) rotate(-90)" text-anchor="middle" font-size="23.5" textLength="127" lengthAdjust="spacingAndGlyphs">% of control</text>
<rect x="580.8" y="411.2" width="76.4" height="60.2" fill="#fff" stroke="#80908f" stroke-width="1.4"/>
<rect x="582.0" y="413.6" width="36.2" height="56.2" fill="#060607"/>
<path d="M582.0 432.0H618.2M582.0 451.4H618.2" stroke="#38434a" stroke-width="2"/>
<rect x="584.4" y="415.6" width="31.5" height="13.2" fill="#aeb8af"/>
<text x="621.8" y="427.2" font-size="15.4">1 Gy</text>
<rect x="584.4" y="434.6" width="31.5" height="13.6" fill="#5e6864"/>
<text x="621.8" y="446.6" font-size="15.4">3 Gy</text>
<rect x="584.4" y="454.2" width="31.5" height="13.6" fill="#1b201c"/>
<text x="621.8" y="466.1" font-size="15.4">5 Gy</text>
<text x="626.7" y="564.1" text-anchor="middle" font-size="15.5" stroke="#111" stroke-width="0.55">#</text>
<text x="718.9" y="472.4" text-anchor="middle" font-size="15.5" stroke="#111" stroke-width="0.55">#</text>
<text x="734.5" y="457.8" text-anchor="middle" font-size="17.5" letter-spacing="0">*</text>
<text x="780.0" y="559.9" text-anchor="middle" font-size="15.5" stroke="#111" stroke-width="0.55">#</text>
<text x="814.4" y="587.7" text-anchor="middle" font-size="17.5" letter-spacing="0">**</text>
<text x="842.9" y="557.0" text-anchor="middle" font-size="17.5" letter-spacing="0">*</text>
<text x="860.0" y="482.3" text-anchor="middle" font-size="17.5" letter-spacing="0">*</text>
<text x="876.5" y="583.8" text-anchor="middle" font-size="17.5" letter-spacing="0">**</text>
<path d="M591.8 515.4V508.0H625.9V521.0" stroke="#060607" stroke-width="1.9" fill="none" stroke-linejoin="round" stroke-linecap="round"/>
<text x="609.9" y="511.1" text-anchor="middle" font-size="17.5" letter-spacing="0">**</text>
<path d="M656.0 484.6V474.8H689.0V482.7" stroke="#060607" stroke-width="1.9" fill="none" stroke-linejoin="round" stroke-linecap="round"/>
<text x="672.8" y="474.1" text-anchor="middle" font-size="15.5" stroke="#111" stroke-width="0.55">#</text>
<path d="M672.0 498.6V493.6H688.7V509.8" stroke="#060607" stroke-width="1.9" fill="none" stroke-linejoin="round" stroke-linecap="round"/>
<text x="682.0" y="490.0" text-anchor="middle" font-size="15.5" stroke="#111" stroke-width="0.55">#</text>
<path d="M717.5 427.9V416.7H753.5V425.1" stroke="#060607" stroke-width="1.9" fill="none" stroke-linejoin="round" stroke-linecap="round"/>
<text x="736.0" y="418.9" text-anchor="middle" font-size="17.5" letter-spacing="0">**</text>
<path d="M735.0 441.3V434.9H751.5V451.1" stroke="#060607" stroke-width="1.9" fill="none" stroke-linejoin="round" stroke-linecap="round"/>
<text x="744.6" y="439.9" text-anchor="middle" font-size="17.5" letter-spacing="0">**</text>
<path d="M779.5 460.9V455.3H813.0V462.3" stroke="#060607" stroke-width="1.9" fill="none" stroke-linejoin="round" stroke-linecap="round"/>
<text x="796.8" y="453.7" text-anchor="middle" font-size="15.5" stroke="#111" stroke-width="0.55">#</text>
<path d="M779.5 492.2V478.2H796.3V483.2" stroke="#060607" stroke-width="1.9" fill="none" stroke-linejoin="round" stroke-linecap="round"/>
<text x="787.3" y="480.9" text-anchor="middle" font-size="17.5" letter-spacing="0">**</text>
<path d="M798.2 483.2V478.2H814.4V498.6" stroke="#060607" stroke-width="1.9" fill="none" stroke-linejoin="round" stroke-linecap="round"/>
<text x="807.4" y="480.9" text-anchor="middle" font-size="17.5" letter-spacing="0">**</text>
<path d="M840.1 445.5V441.3H874.0V449.7" stroke="#060607" stroke-width="1.9" fill="none" stroke-linejoin="round" stroke-linecap="round"/>
<text x="858.6" y="439.7" text-anchor="middle" font-size="15.5" stroke="#111" stroke-width="0.55">#</text>
<path d="M840.1 473.4V462.3H857.7V466.5" stroke="#060607" stroke-width="1.9" fill="none" stroke-linejoin="round" stroke-linecap="round"/>
<text x="848.8" y="464.7" text-anchor="middle" font-size="17.5" letter-spacing="0">**</text>
<path d="M859.1 466.5V462.3H876.5V481.0" stroke="#060607" stroke-width="1.9" fill="none" stroke-linejoin="round" stroke-linecap="round"/>
<text x="867.5" y="464.7" text-anchor="middle" font-size="17.5" letter-spacing="0">**</text>
<rect x="1120.8" y="580.1" width="16.6" height="81.8" fill="#aeb8af" stroke="#050506" stroke-width="2.35"/>
<rect x="1137.4" y="583.7" width="16.6" height="78.1" fill="#5e6864" stroke="#050506" stroke-width="2.35"/>
<rect x="1154.0" y="580.1" width="16.6" height="81.8" fill="#1b201c" stroke="#050506" stroke-width="2.35"/>
<path d="M1129.1 572.4V587.8M1125.1 572.4H1133.1M1125.1 587.8H1133.1" stroke="#060607" stroke-width="2.05" fill="none"/>
<path d="M1145.7 576.7V590.7M1141.7 576.7H1149.7M1141.7 590.7H1149.7" stroke="#060607" stroke-width="2.05" fill="none"/>
<path d="M1162.3 572.4V587.8M1158.3 572.4H1166.3M1158.3 587.8H1166.3" stroke="#060607" stroke-width="2.05" fill="none"/>
<rect x="1183.1" y="573.1" width="16.6" height="88.8" fill="#aeb8af" stroke="#050506" stroke-width="2.35"/>
<rect x="1199.7" y="544.6" width="16.6" height="117.2" fill="#5e6864" stroke="#050506" stroke-width="2.35"/>
<rect x="1216.3" y="584.6" width="16.6" height="77.2" fill="#1b201c" stroke="#050506" stroke-width="2.35"/>
<path d="M1191.4 563.6V582.6M1187.4 563.6H1195.4M1187.4 582.6H1195.4" stroke="#060607" stroke-width="2.05" fill="none"/>
<path d="M1208.0 532.6V556.6M1204.0 532.6H1212.0M1204.0 556.6H1212.0" stroke="#060607" stroke-width="2.05" fill="none"/>
<path d="M1224.6 574.4V594.8M1220.6 574.4H1228.6M1220.6 594.8H1228.6" stroke="#060607" stroke-width="2.05" fill="none"/>
<rect x="1245.5" y="577.3" width="16.6" height="84.5" fill="#aeb8af" stroke="#050506" stroke-width="2.35"/>
<rect x="1262.1" y="565.0" width="16.6" height="96.9" fill="#5e6864" stroke="#050506" stroke-width="2.35"/>
<rect x="1278.7" y="581.5" width="16.6" height="80.4" fill="#1b201c" stroke="#050506" stroke-width="2.35"/>
<path d="M1253.8 569.2V585.4M1249.8 569.2H1257.8M1249.8 585.4H1257.8" stroke="#060607" stroke-width="2.05" fill="none"/>
<path d="M1270.4 554.5V575.5M1266.4 554.5H1274.4M1266.4 575.5H1274.4" stroke="#060607" stroke-width="2.05" fill="none"/>
<path d="M1287.0 570.5V592.5M1283.0 570.5H1291.0M1283.0 592.5H1291.0" stroke="#060607" stroke-width="2.05" fill="none"/>
<rect x="1307.8" y="578.1" width="16.6" height="83.8" fill="#aeb8af" stroke="#050506" stroke-width="2.35"/>
<rect x="1324.4" y="606.6" width="16.6" height="55.2" fill="#5e6864" stroke="#050506" stroke-width="2.35"/>
<rect x="1341.0" y="598.2" width="16.6" height="63.6" fill="#1b201c" stroke="#050506" stroke-width="2.35"/>
<path d="M1316.1 572.2V584.0M1312.1 572.2H1320.1M1312.1 584.0H1320.1" stroke="#060607" stroke-width="2.05" fill="none"/>
<path d="M1332.7 602.1V611.1M1328.7 602.1H1336.7M1328.7 611.1H1336.7" stroke="#060607" stroke-width="2.05" fill="none"/>
<path d="M1349.3 591.6V604.8M1345.3 591.6H1353.3M1345.3 604.8H1353.3" stroke="#060607" stroke-width="2.05" fill="none"/>
<rect x="1370.1" y="599.6" width="16.6" height="62.2" fill="#aeb8af" stroke="#050506" stroke-width="2.35"/>
<rect x="1386.7" y="611.7" width="16.6" height="50.1" fill="#5e6864" stroke="#050506" stroke-width="2.35"/>
<rect x="1403.3" y="612.5" width="16.6" height="49.4" fill="#1b201c" stroke="#050506" stroke-width="2.35"/>
<path d="M1378.4 594.3V604.9M1374.4 594.3H1382.4M1374.4 604.9H1382.4" stroke="#060607" stroke-width="2.05" fill="none"/>
<path d="M1395.0 607.2V616.2M1391.0 607.2H1399.0M1391.0 616.2H1399.0" stroke="#060607" stroke-width="2.05" fill="none"/>
<path d="M1411.6 607.9V617.1M1407.6 607.9H1415.6M1407.6 617.1H1415.6" stroke="#060607" stroke-width="2.05" fill="none"/>
<path d="M1114.6 411.2V662.6M1113.8 661.9H1426.6" stroke="#050506" stroke-width="2.25" fill="none"/>
<path d="M1109.1 661.9H1114.6M1111.6 636.9H1114.6M1109.1 611.9H1114.6M1111.6 586.9H1114.6M1109.1 561.9H1114.6M1111.6 536.9H1114.6M1109.1 511.9H1114.6M1111.6 487.0H1114.6M1109.1 462.0H1114.6M1111.6 437.0H1114.6M1109.1 412.0H1114.6M1114.6 661.9V665.1M1145.7 661.9V667.5M1176.8 661.9V665.1M1208.0 661.9V667.5M1239.1 661.9V665.1M1270.2 661.9V667.5M1301.3 661.9V665.1M1332.4 661.9V667.5M1363.6 661.9V665.1M1394.7 661.9V667.5M1425.8 661.9V665.1" stroke="#060607" stroke-width="1.8" fill="none"/>
<text x="1106.3" y="666.9" text-anchor="end" font-size="18.2">0</text>
<text x="1106.3" y="616.9" text-anchor="end" font-size="18.2">40</text>
<text x="1106.3" y="566.9" text-anchor="end" font-size="18.2">80</text>
<text x="1106.3" y="516.9" text-anchor="end" font-size="18.2">120</text>
<text x="1106.3" y="467.0" text-anchor="end" font-size="18.2">160</text>
<text x="1106.3" y="417.0" text-anchor="end" font-size="18.2">200</text>
<text x="1145.7" y="684.1" text-anchor="middle" font-size="18.2">1</text>
<text x="1208.0" y="684.1" text-anchor="middle" font-size="18.2">2</text>
<text x="1270.2" y="684.1" text-anchor="middle" font-size="18.2">3</text>
<text x="1332.4" y="684.1" text-anchor="middle" font-size="18.2">4</text>
<text x="1394.7" y="684.1" text-anchor="middle" font-size="18.2">5</text>
<text x="1271.2" y="707.7" text-anchor="middle" font-size="18" textLength="222" lengthAdjust="spacingAndGlyphs">Time after seeding (days)</text>
<text transform="translate(1069.1 537.6) rotate(-90)" text-anchor="middle" font-size="23.5" textLength="127" lengthAdjust="spacingAndGlyphs">% of control</text>
<rect x="1117.4" y="411.2" width="76.4" height="60.2" fill="#fff" stroke="#80908f" stroke-width="1.4"/>
<rect x="1118.6" y="413.6" width="36.2" height="56.2" fill="#060607"/>
<rect x="1121.0" y="415.6" width="31.5" height="13.2" fill="#aeb8af"/>
<text x="1158.4" y="427.2" font-size="15.4">1 Gy</text>
<rect x="1121.0" y="434.6" width="31.5" height="13.6" fill="#5e6864"/>
<text x="1158.4" y="446.6" font-size="15.4">3 Gy</text>
<rect x="1121.0" y="454.2" width="31.5" height="13.6" fill="#1b201c"/>
<text x="1158.4" y="466.1" font-size="15.4">5 Gy</text>
<text x="1129.7" y="568.8" text-anchor="middle" font-size="15.5" stroke="#111" stroke-width="0.55">#</text>
<text x="1163.5" y="568.8" text-anchor="middle" font-size="15.5" stroke="#111" stroke-width="0.55">#</text>
<text x="1225.6" y="571.1" text-anchor="middle" font-size="15.5" stroke="#111" stroke-width="0.55">#</text>
<text x="1254.9" y="567.4" text-anchor="middle" font-size="15.5" stroke="#111" stroke-width="0.55">#</text>
<text x="1286.7" y="570.9" text-anchor="middle" font-size="17.5" letter-spacing="0">*</text>
<text x="1316.9" y="568.0" text-anchor="middle" font-size="15.5" stroke="#111" stroke-width="0.55">#</text>
<text x="1333.1" y="602.3" text-anchor="middle" font-size="17.5" letter-spacing="0">**</text>
<text x="1349.9" y="591.9" text-anchor="middle" font-size="17.5" letter-spacing="0">**</text>
<text x="1378.9" y="593.9" text-anchor="middle" font-size="17.5" letter-spacing="0">**</text>
<text x="1396.5" y="605.9" text-anchor="middle" font-size="17.5" letter-spacing="0">**</text>
<text x="1412.7" y="607.8" text-anchor="middle" font-size="17.5" letter-spacing="0">**</text>
<path d="M1207.4 527.1V521.0H1225.0V531.9" stroke="#060607" stroke-width="1.9" fill="none" stroke-linejoin="round" stroke-linecap="round"/>
<text x="1217.8" y="519.9" text-anchor="middle" font-size="15.5" stroke="#111" stroke-width="0.55">#</text>
<path d="M1316.9 536.9V530.7H1348.2V541.1" stroke="#060607" stroke-width="1.9" fill="none" stroke-linejoin="round" stroke-linecap="round"/>
<text x="1334.2" y="529.7" text-anchor="middle" font-size="15.5" stroke="#111" stroke-width="0.55">#</text>
<path d="M1316.9 552.8V546.7H1333.1V556.5" stroke="#060607" stroke-width="1.9" fill="none" stroke-linejoin="round" stroke-linecap="round"/>
<text x="1326.1" y="549.4" text-anchor="middle" font-size="17.5" letter-spacing="0">*</text>
<rect x="1578.3" y="604.7" width="16.6" height="57.1" fill="#aeb8af" stroke="#050506" stroke-width="2.35"/>
<rect x="1594.9" y="615.0" width="16.6" height="46.9" fill="#5e6864" stroke="#050506" stroke-width="2.35"/>
<rect x="1611.5" y="621.4" width="16.6" height="40.4" fill="#1b201c" stroke="#050506" stroke-width="2.35"/>
<path d="M1586.6 598.0V611.4M1582.6 598.0H1590.6M1582.6 611.4H1590.6" stroke="#060607" stroke-width="2.05" fill="none"/>
<path d="M1603.2 609.4V620.6M1599.2 609.4H1607.2M1599.2 620.6H1607.2" stroke="#060607" stroke-width="2.05" fill="none"/>
<path d="M1619.8 616.1V626.7M1615.8 616.1H1623.8M1615.8 626.7H1623.8" stroke="#060607" stroke-width="2.05" fill="none"/>
<rect x="1640.6" y="527.3" width="16.6" height="134.5" fill="#aeb8af" stroke="#050506" stroke-width="2.35"/>
<rect x="1657.2" y="551.0" width="16.6" height="110.9" fill="#5e6864" stroke="#050506" stroke-width="2.35"/>
<rect x="1673.8" y="602.4" width="16.6" height="59.4" fill="#1b201c" stroke="#050506" stroke-width="2.35"/>
<path d="M1648.9 513.0V541.6M1644.9 513.0H1652.9M1644.9 541.6H1652.9" stroke="#060607" stroke-width="2.05" fill="none"/>
<path d="M1665.5 537.3V564.7M1661.5 537.3H1669.5M1661.5 564.7H1669.5" stroke="#060607" stroke-width="2.05" fill="none"/>
<path d="M1682.1 593.6V611.2M1678.1 593.6H1686.1M1678.1 611.2H1686.1" stroke="#060607" stroke-width="2.05" fill="none"/>
<rect x="1703.0" y="552.3" width="16.6" height="109.5" fill="#aeb8af" stroke="#050506" stroke-width="2.35"/>
<rect x="1719.6" y="516.4" width="16.6" height="145.4" fill="#5e6864" stroke="#050506" stroke-width="2.35"/>
<rect x="1736.2" y="572.5" width="16.6" height="89.4" fill="#1b201c" stroke="#050506" stroke-width="2.35"/>
<path d="M1711.3 544.8V559.8M1707.3 544.8H1715.3M1707.3 559.8H1715.3" stroke="#060607" stroke-width="2.05" fill="none"/>
<path d="M1727.9 504.2V528.6M1723.9 504.2H1731.9M1723.9 528.6H1731.9" stroke="#060607" stroke-width="2.05" fill="none"/>
<path d="M1744.5 565.8V579.2M1740.5 565.8H1748.5M1740.5 579.2H1748.5" stroke="#060607" stroke-width="2.05" fill="none"/>
<rect x="1765.3" y="594.0" width="16.6" height="67.9" fill="#aeb8af" stroke="#050506" stroke-width="2.35"/>
<rect x="1781.9" y="536.6" width="16.6" height="125.2" fill="#5e6864" stroke="#050506" stroke-width="2.35"/>
<rect x="1798.5" y="637.3" width="16.6" height="24.5" fill="#1b201c" stroke="#050506" stroke-width="2.35"/>
<path d="M1773.6 587.4V600.6M1769.6 587.4H1777.6M1769.6 600.6H1777.6" stroke="#060607" stroke-width="2.05" fill="none"/>
<path d="M1790.2 530.0V543.2M1786.2 530.0H1794.2M1786.2 543.2H1794.2" stroke="#060607" stroke-width="2.05" fill="none"/>
<path d="M1806.8 633.3V641.3M1802.8 633.3H1810.8M1802.8 641.3H1810.8" stroke="#060607" stroke-width="2.05" fill="none"/>
<rect x="1827.6" y="575.0" width="16.6" height="86.9" fill="#aeb8af" stroke="#050506" stroke-width="2.35"/>
<rect x="1844.2" y="609.4" width="16.6" height="52.4" fill="#5e6864" stroke="#050506" stroke-width="2.35"/>
<rect x="1860.8" y="629.5" width="16.6" height="32.4" fill="#1b201c" stroke="#050506" stroke-width="2.35"/>
<path d="M1835.9 571.9V578.1M1831.9 571.9H1839.9M1831.9 578.1H1839.9" stroke="#060607" stroke-width="2.05" fill="none"/>
<path d="M1852.5 604.7V614.1M1848.5 604.7H1856.5M1848.5 614.1H1856.5" stroke="#060607" stroke-width="2.05" fill="none"/>
<path d="M1869.1 626.5V632.5M1865.1 626.5H1873.1M1865.1 632.5H1873.1" stroke="#060607" stroke-width="2.05" fill="none"/>
<path d="M1572.1 411.2V662.6M1571.3 661.9H1884.1" stroke="#050506" stroke-width="2.25" fill="none"/>
<path d="M1566.6 661.9H1572.1M1569.1 636.9H1572.1M1566.6 611.9H1572.1M1569.1 586.9H1572.1M1566.6 561.9H1572.1M1569.1 536.9H1572.1M1566.6 511.9H1572.1M1569.1 487.0H1572.1M1566.6 462.0H1572.1M1569.1 437.0H1572.1M1566.6 412.0H1572.1M1572.1 661.9V665.1M1603.2 661.9V667.5M1634.3 661.9V665.1M1665.5 661.9V667.5M1696.6 661.9V665.1M1727.7 661.9V667.5M1758.8 661.9V665.1M1789.9 661.9V667.5M1821.1 661.9V665.1M1852.2 661.9V667.5M1883.3 661.9V665.1" stroke="#060607" stroke-width="1.8" fill="none"/>
<text x="1563.8" y="666.9" text-anchor="end" font-size="18.2">0</text>
<text x="1563.8" y="616.9" text-anchor="end" font-size="18.2">40</text>
<text x="1563.8" y="566.9" text-anchor="end" font-size="18.2">80</text>
<text x="1563.8" y="516.9" text-anchor="end" font-size="18.2">120</text>
<text x="1563.8" y="467.0" text-anchor="end" font-size="18.2">160</text>
<text x="1563.8" y="417.0" text-anchor="end" font-size="18.2">200</text>
<text x="1603.2" y="684.1" text-anchor="middle" font-size="18.2">1</text>
<text x="1665.5" y="684.1" text-anchor="middle" font-size="18.2">2</text>
<text x="1727.7" y="684.1" text-anchor="middle" font-size="18.2">3</text>
<text x="1789.9" y="684.1" text-anchor="middle" font-size="18.2">4</text>
<text x="1852.2" y="684.1" text-anchor="middle" font-size="18.2">5</text>
<text x="1728.8" y="707.9" text-anchor="middle" font-size="18" textLength="222" lengthAdjust="spacingAndGlyphs">Time after seeding (days)</text>
<text transform="translate(1526.6 537.6) rotate(-90)" text-anchor="middle" font-size="23.5" textLength="127" lengthAdjust="spacingAndGlyphs">% of control</text>
<rect x="1574.9" y="411.2" width="76.4" height="60.2" fill="#fff" stroke="#80908f" stroke-width="1.4"/>
<rect x="1576.1" y="413.6" width="36.2" height="56.2" fill="#060607"/>
<rect x="1578.5" y="415.6" width="31.5" height="13.2" fill="#aeb8af"/>
<text x="1615.9" y="427.2" font-size="15.4">1 Gy</text>
<rect x="1578.5" y="434.6" width="31.5" height="13.6" fill="#5e6864"/>
<text x="1615.9" y="446.6" font-size="15.4">3 Gy</text>
<rect x="1578.5" y="454.2" width="31.5" height="13.6" fill="#1b201c"/>
<text x="1615.9" y="466.1" font-size="15.4">5 Gy</text>
<text x="1587.2" y="597.5" text-anchor="middle" font-size="17.5" letter-spacing="0">**</text>
<text x="1605.3" y="608.7" text-anchor="middle" font-size="17.5" letter-spacing="0">**</text>
<text x="1621.3" y="616.2" text-anchor="middle" font-size="17.5" letter-spacing="0">**</text>
<text x="1683.0" y="593.9" text-anchor="middle" font-size="17.5" letter-spacing="0">**</text>
<text x="1773.9" y="586.3" text-anchor="middle" font-size="17.5" letter-spacing="0">**</text>
<text x="1808.0" y="633.0" text-anchor="middle" font-size="17.5" letter-spacing="0">**</text>
<text x="1853.3" y="604.2" text-anchor="middle" font-size="17.5" letter-spacing="0">**</text>
<text x="1870.1" y="625.4" text-anchor="middle" font-size="17.5" letter-spacing="0">**</text>
<path d="M1650.6 506.7V498.3H1684.1V515.9" stroke="#060607" stroke-width="1.9" fill="none" stroke-linejoin="round" stroke-linecap="round"/>
<text x="1668.2" y="501.6" text-anchor="middle" font-size="17.5" letter-spacing="0">**</text>
<path d="M1727.8 498.3V492.5H1744.3V502.5" stroke="#060607" stroke-width="1.9" fill="none" stroke-linejoin="round" stroke-linecap="round"/>
<text x="1736.0" y="491.2" text-anchor="middle" font-size="15.5" stroke="#111" stroke-width="0.55">#</text>
<path d="M1771.1 498.3V489.9H1808.9V507.5" stroke="#060607" stroke-width="1.9" fill="none" stroke-linejoin="round" stroke-linecap="round"/>
<text x="1791.2" y="490.4" text-anchor="middle" font-size="17.5" letter-spacing="0">**</text>
<path d="M1771.1 524.8V510.9H1788.4V517.0" stroke="#060607" stroke-width="1.9" fill="none" stroke-linejoin="round" stroke-linecap="round"/>
<text x="1780.9" y="514.2" text-anchor="middle" font-size="17.5" letter-spacing="0">**</text>
<path d="M1790.4 524.8V520.1H1806.6V531.8" stroke="#060607" stroke-width="1.9" fill="none" stroke-linejoin="round" stroke-linecap="round"/>
<text x="1799.6" y="522.6" text-anchor="middle" font-size="17.5" letter-spacing="0">**</text>
<path d="M1835.4 544.4V535.3H1870.1V554.2" stroke="#060607" stroke-width="1.9" fill="none" stroke-linejoin="round" stroke-linecap="round"/>
<text x="1852.7" y="539.3" text-anchor="middle" font-size="17.5" letter-spacing="0">**</text>
<path d="M1835.4 565.9V560.3H1851.9V569.6" stroke="#060607" stroke-width="1.9" fill="none" stroke-linejoin="round" stroke-linecap="round"/>
<text x="1843.5" y="561.1" text-anchor="middle" font-size="17.5" letter-spacing="0">**</text>
<path d="M1852.7 587.7V581.6H1868.9V594.2" stroke="#060607" stroke-width="1.9" fill="none" stroke-linejoin="round" stroke-linecap="round"/>
<text x="1860.3" y="585.5" text-anchor="middle" font-size="17.5" letter-spacing="0">*</text>
</svg>
</body></html>
